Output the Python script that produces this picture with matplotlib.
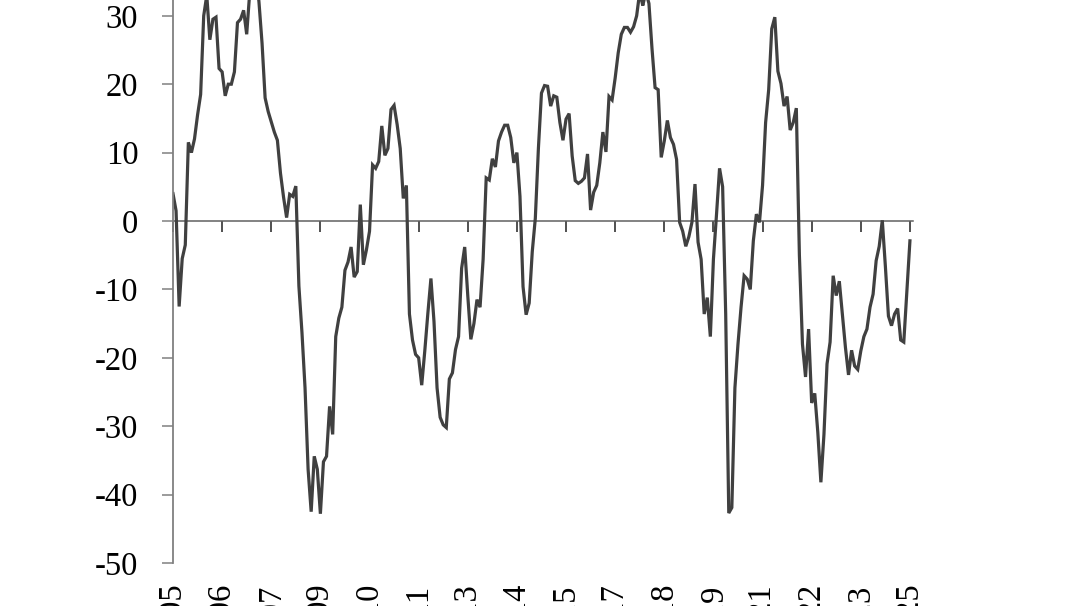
import matplotlib
matplotlib.use('Agg')
import matplotlib.pyplot as plt
import numpy as np
import pandas as pd

# monthly values, Jan 2005 .. Jan 2025
vals_2005_2009 = [4.0, 1.5, -12.5, -5.5, -3.5, 11.5, 10.0, 12.0, 15.5, 18.5, 30.0, 33.0,
                  26.5, 29.5, 29.8, 22.3, 21.8, 18.3, 20.0, 20.0, 21.8, 29.0, 29.5, 30.8,
                  27.3, 33.5, 36.0, 36.5, 32.0, 26.0, 18.0, 16.0, 14.5, 13.0, 11.8, 7.0,
                  3.5, 0.5, 3.9, 3.6, 5.1, -9.5, -16.3, -24.4, -36.3, -42.5, -34.4, -36.3,
                  -42.8, -35.2, -34.4, -27.1, -31.2, -16.9, -14.2, -12.6, -7.2, -6.0, -3.8, -8.2]
vals_2010_2014 = [-7.4, 2.4, -6.4, -4.2, -1.5, 8.2, 7.7, 8.7, 13.9, 9.6, 10.6, 16.3,
                  16.9, 14.1, 10.6, 3.3, 5.2, -13.6, -17.4, -19.5, -20.0, -24.0, -19.0, -13.5,
                  -8.4, -14.7, -24.4, -28.7, -29.8, -30.2, -23.1, -22.2, -18.8, -16.9, -6.9, -3.8,
                  -10.9, -17.3, -15.0, -11.5, -12.6, -5.6, 6.3, 6.0, 9.1, 7.9, 11.7, 13.0,
                  14.0, 14.0, 12.2, 8.5, 10.0, 3.6, -9.6, -13.7, -12.0, -4.5, 0.4, 10.6]
vals_2015_2019 = [18.7, 19.8, 19.7, 16.8, 18.3, 18.1, 14.4, 11.8, 14.9, 15.7, 9.5, 5.9,
                  5.5, 5.8, 6.3, 9.8, 1.6, 4.2, 5.2, 8.5, 13.0, 10.1, 18.2, 17.7,
                  20.9, 24.6, 27.3, 28.3, 28.3, 27.6, 28.4, 30.0, 33.5, 31.5, 33.5, 31.8,
                  25.2, 19.5, 19.2, 9.3, 11.7, 14.7, 12.2, 11.2, 9.0, -0.2, -1.5, -3.7,
                  -2.3, -0.2, 5.4, -3.1, -5.6, -13.6, -11.2, -16.9, -5.6, 0.9, 7.7, 5.0]
vals_2020_2025 = [-13.6, -42.7, -41.9, -24.4, -18.0, -12.6, -8.0, -8.5, -10.0, -2.9, 1.0, -0.2,
                  5.2, 14.4, 19.2, 28.1, 29.8, 21.9, 20.1, 16.8, 18.2, 13.3, 14.4, 16.5,
                  -5.0, -18.0, -22.8, -15.8, -26.6, -25.2, -30.9, -38.2, -31.2, -20.9, -17.7, -8.0,
                  -10.9, -8.8, -13.6, -18.5, -22.5, -18.9, -21.2, -21.7, -19.0, -16.9, -15.8, -12.6,
                  -10.7, -5.8, -3.7, 0.1, -6.6, -13.9, -15.3, -13.6, -12.8, -17.4, -17.7, -10.4,
                  -2.9]

vals = np.array(vals_2005_2009 + vals_2010_2014 + vals_2015_2019 + vals_2020_2025)
dates = pd.date_range('2005-01-01', periods=len(vals), freq='MS')
x = np.arange(len(vals))

tick_pos = np.arange(0, len(vals), 16)
tick_lab = [d.strftime('%b-%y') for d in dates[tick_pos]]

plt.rcParams['font.family'] = ['Liberation Serif', 'DejaVu Serif']
plt.rcParams['axes.unicode_minus'] = False

fig = plt.figure(figsize=(10.78, 6.06), dpi=100)
ax = fig.add_axes([173/1078, 43/606, 740/1078, 615.6/606])

ax.plot(x, vals, color='#404040', lw=2.3, solid_joinstyle='miter')

ax.set_xlim(0, 241)
ax.set_ylim(-50, 40)
ax.set_yticks(np.arange(-50, 41, 10))
ax.tick_params(axis='y', direction='out', length=8, width=1.1, color='#808080',
               pad=17, labelsize=23.5)

ax.set_xticks(tick_pos)
ax.set_xticklabels(tick_lab, rotation=90, va='top', ha='center')
ax.tick_params(axis='x', length=0, pad=15, labelsize=23.5)

for s in ['top', 'right', 'bottom']:
    ax.spines[s].set_visible(False)
ax.spines['left'].set_color('#808080')
ax.spines['left'].set_linewidth(1.3)

# horizontal axis line crossing at zero, with its tick marks pointing down
zero_ax = ax.secondary_xaxis(50/90)
zero_ax.set_alignment('bottom')
zero_ax.set_xticks(tick_pos)
zero_ax.tick_params(axis='x', direction='out', length=8, width=1.1, color='#202020',
                    labelbottom=False, labeltop=False)
zero_ax.spines['bottom'].set_color('#606060')
zero_ax.spines['bottom'].set_linewidth(1.1)

fig.savefig('out.png', dpi=100)
